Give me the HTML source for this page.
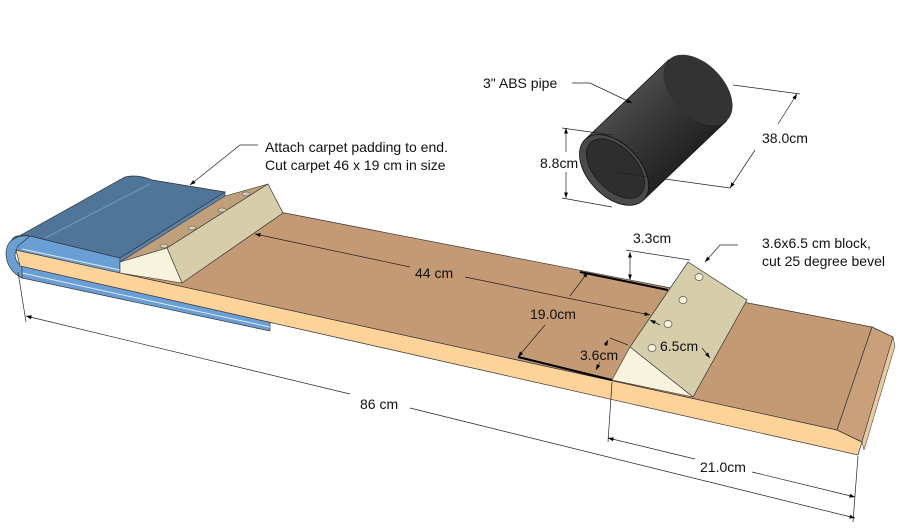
<!DOCTYPE html>
<html><head><meta charset="utf-8"><style>
html,body{margin:0;padding:0;background:#fff;}
svg{display:block;}
text{font-family:"Liberation Sans",sans-serif;font-size:14px;fill:#111;}
</style></head><body>
<svg width="900" height="530" viewBox="0 0 900 530" xmlns="http://www.w3.org/2000/svg">
<defs>
<marker id="a" viewBox="0 0 10 10" refX="10" refY="5" markerWidth="8" markerHeight="8" orient="auto-start-reverse"><path d="M0,1.5 L10,5 L0,8.5 z" fill="#000"/></marker>
<linearGradient id="pg" x1="0" y1="0" x2="0" y2="1"><stop offset="0" stop-color="#4a4a4a"/><stop offset="0.35" stop-color="#3a3a3a"/><stop offset="1" stop-color="#222"/></linearGradient>
</defs>

<!-- carpet bottom strip -->
<polygon points="18,264 270,318 270,331 22,278" fill="#6a9fd6" stroke="#333" stroke-width="0.7"/>
<line x1="22" y1="273" x2="270" y2="327" stroke="#dfe9f5" stroke-width="1"/>
<!-- carpet left wrap -->
<path d="M30,236 Q8,234 6,252 Q6,270 22,278 L22,266 Q15,262 15,254 Q17,247 30,248 Z" fill="#6a9fd6" stroke="#333" stroke-width="0.7"/>
<!-- board side (orange) -->
<polygon points="16,250 837,430 862,442 858,455 20,266" fill="#fdd39a" stroke="#333" stroke-width="0.7"/>
<!-- board top brown -->
<polygon points="120,181 872,327 837,430 120,273" fill="#c39a73" stroke="#333" stroke-width="0.7"/>
<!-- right bevel end -->
<polygon points="872,327 893,337 862,442 837,430" fill="#c9a07a" stroke="#333" stroke-width="0.7"/>
<polygon points="893,337 895,346 864,450 862,442" fill="#e8c9a0" stroke="#333" stroke-width="0.5"/>
<!-- thick edge lines -->
<line x1="580" y1="272" x2="668" y2="290" stroke="#000" stroke-width="2"/>
<line x1="518" y1="357" x2="612" y2="380" stroke="#000" stroke-width="2"/>

<!-- carpet front face -->
<polygon points="30,236 120,258 120,273 16,250 18,246" fill="#6a9fd6" stroke="#333" stroke-width="0.6"/>
<line x1="22" y1="249" x2="120" y2="270" stroke="#dfe9f5" stroke-width="1"/>
<!-- carpet top -->
<path d="M125,177 Q138,174 152,180 L225,192 L120,258 L30,236 Q14,234 12,240 Z" fill="#4f7599" stroke="#333" stroke-width="0.7"/>
<line x1="150" y1="184" x2="45" y2="238" stroke="#6d90b2" stroke-width="1.5"/>
<polygon points="225,192 225,199 120,268 120,258" fill="#5a84ad" stroke="#333" stroke-width="0.6"/>

<!-- left wedge block -->
<polygon points="225,196 268,184 167,248 120,262" fill="#bfa07a" stroke="#333" stroke-width="0.6"/>
<polygon points="268,184 283,213 182,283 167,248" fill="#d8cdab" stroke="#333" stroke-width="0.7"/>
<polygon points="120,262 167,248 182,283 120,273" fill="#f7f3dc" stroke="#333" stroke-width="0.6"/>
<g fill="#d8cdab" stroke="#555" stroke-width="0.6">
<ellipse cx="164" cy="246" rx="4" ry="2"/><ellipse cx="192" cy="228" rx="4" ry="2"/><ellipse cx="222" cy="210" rx="4" ry="2"/><ellipse cx="246" cy="194" rx="4" ry="2"/>
</g>

<!-- right block -->
<polygon points="688,262 747,300 693,397 630,347" fill="#d6cdaa" stroke="#333" stroke-width="0.7"/>
<polygon points="630,347 693,397 612,380" fill="#f7f3dc" stroke="#333" stroke-width="0.6"/>
<g fill="#f7f3dc" stroke="#555" stroke-width="0.7">
<ellipse cx="699" cy="277" rx="4" ry="3.5"/><ellipse cx="683" cy="300" rx="4" ry="3.5"/><ellipse cx="668" cy="324" rx="4" ry="3.5"/><ellipse cx="652" cy="348" rx="4" ry="3.5"/>
</g>

<!-- pipe -->
<g transform="translate(614,170) rotate(-43.6)">
<rect x="0" y="-42" width="116" height="84" fill="url(#pg)"/>
<ellipse cx="116" cy="0" rx="26" ry="42" fill="#333"/>
<line x1="0" y1="-42" x2="116" y2="-42" stroke="#111" stroke-width="0.8"/>
<line x1="0" y1="42" x2="116" y2="42" stroke="#111" stroke-width="0.8"/>
<ellipse cx="0" cy="0" rx="26" ry="42" fill="#4a4a4a" stroke="#111" stroke-width="0.8"/>
<ellipse cx="2" cy="0" rx="21" ry="36" fill="#2e2e2e" stroke="#111" stroke-width="0.6"/>
</g>

<!-- dimension lines -->
<g stroke="#222" stroke-width="0.7" fill="none">
<line x1="18" y1="272" x2="26" y2="322"/>
<line x1="858" y1="456" x2="853" y2="522"/>
<line x1="612" y1="382" x2="608" y2="442"/>
<line x1="410" y1="408" x2="855" y2="518" marker-end="url(#a)"/>
<line x1="350" y1="394" x2="26" y2="316" marker-end="url(#a)"/>
<line x1="608" y1="438" x2="695" y2="459" marker-start="url(#a)"/>
<line x1="752" y1="472" x2="855" y2="497" marker-end="url(#a)"/>
<line x1="255" y1="234" x2="410" y2="267" marker-start="url(#a)"/>
<line x1="465" y1="277" x2="650" y2="315" marker-end="url(#a)"/>
<line x1="588" y1="272" x2="570" y2="296" marker-start="url(#a)"/>
<line x1="545" y1="325" x2="518" y2="357" marker-end="url(#a)"/>
<line x1="626" y1="250" x2="690" y2="260"/>
<line x1="630" y1="252" x2="630" y2="280" marker-start="url(#a)" marker-end="url(#a)"/>
<line x1="610" y1="338" x2="628" y2="345"/>
<line x1="608" y1="340" x2="605" y2="346" marker-start="url(#a)"/>
<line x1="600" y1="362" x2="596" y2="370" marker-end="url(#a)"/>
<line x1="660" y1="325" x2="650" y2="320" marker-end="url(#a)"/>
<line x1="702" y1="348" x2="710" y2="358" marker-end="url(#a)"/>
<line x1="562" y1="128" x2="612" y2="135"/>
<line x1="562" y1="198" x2="612" y2="207"/>
<line x1="566" y1="128" x2="566" y2="152" marker-start="url(#a)"/>
<line x1="566" y1="172" x2="566" y2="198" marker-end="url(#a)"/>
<line x1="614" y1="172" x2="730" y2="188"/>
<line x1="733" y1="85" x2="800" y2="94"/>
<line x1="797" y1="94" x2="778" y2="124" marker-start="url(#a)"/>
<line x1="755" y1="150" x2="730" y2="188" marker-end="url(#a)"/>
<polyline points="572,83 590,83 632,103" marker-end="url(#a)"/>
<polyline points="258,145 240,145 190,185" marker-end="url(#a)"/>
<polyline points="738,245 720,245 705,262" marker-end="url(#a)"/>
</g>

<!-- labels -->
<text x="265" y="152">Attach carpet padding to end.</text>
<text x="265" y="170">Cut carpet 46 x 19 cm in size</text>
<text x="483" y="88">3" ABS pipe</text>
<text x="762" y="143">38.0cm</text>
<text x="540" y="168">8.8cm</text>
<text x="633" y="243">3.3cm</text>
<text x="762" y="248">3.6x6.5 cm block,</text>
<text x="762" y="266">cut 25 degree bevel</text>
<text x="415" y="278">44 cm</text>
<text x="530" y="319">19.0cm</text>
<text x="580" y="360">3.6cm</text>
<text x="660" y="351">6.5cm</text>
<text x="360" y="409">86 cm</text>
<text x="700" y="472">21.0cm</text>
</svg>
</body></html>
